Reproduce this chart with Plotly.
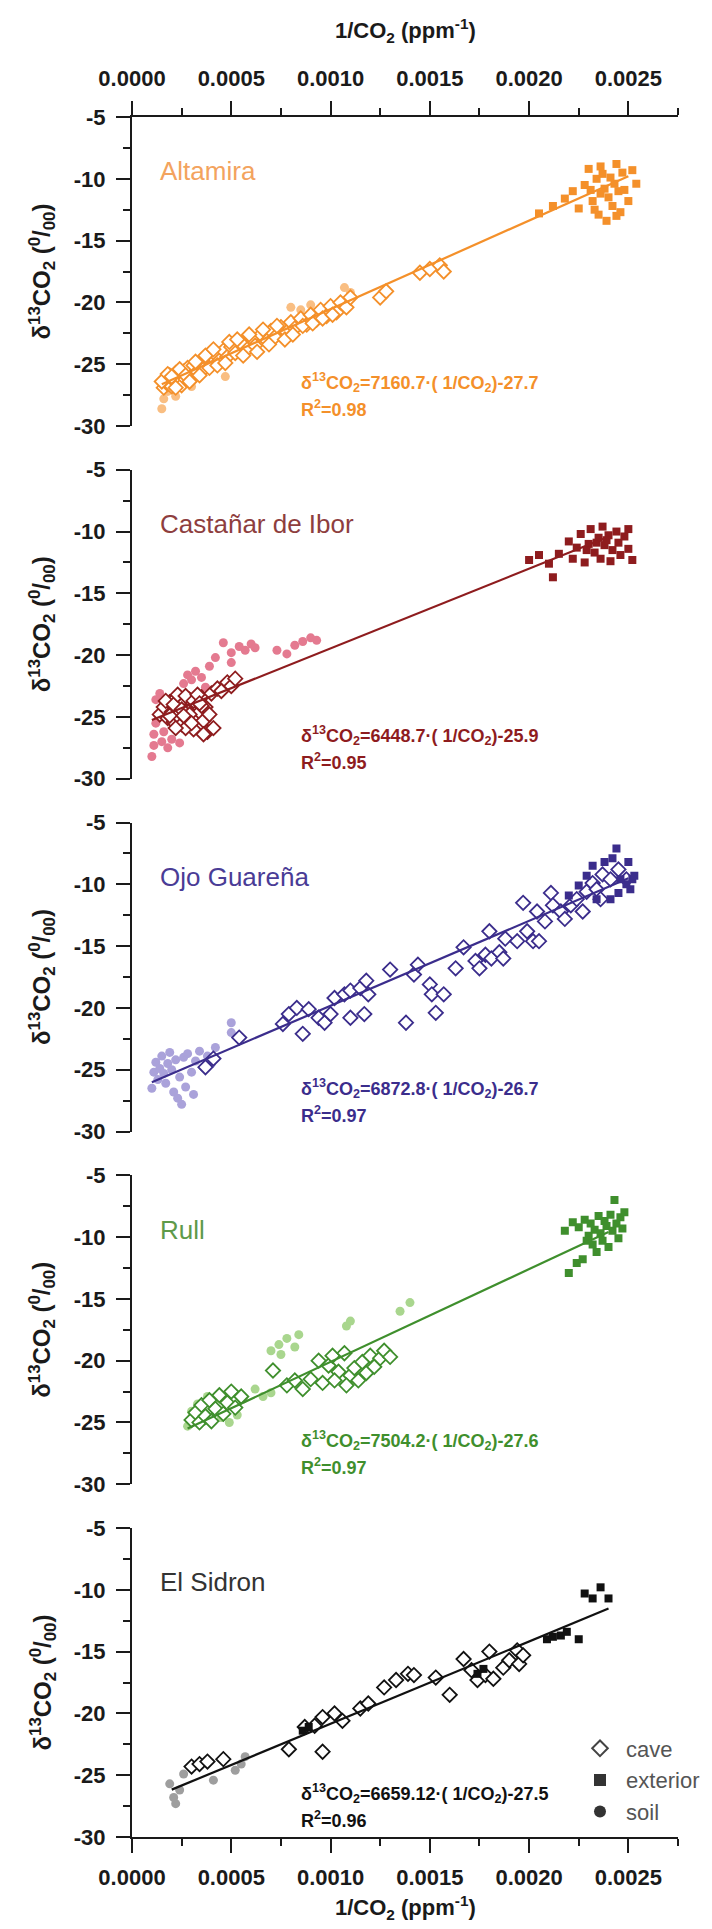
import plotly.graph_objects as go

# ---------------- axis / tick data ----------------
X_RANGE = [0.0, 0.00275]
Y_RANGE = [-30, -5]
x_tick_vals = [0.0, 0.0005, 0.0010, 0.0015, 0.0020, 0.0025]
x_tick_text = ["0.0000", "0.0005", "0.0010", "0.0015", "0.0020", "0.0025"]
x_minor_vals = [0.00025, 0.00075, 0.00125, 0.00175, 0.00225, 0.00275]
y_tick_vals = [-30, -25, -20, -15, -10, -5]
y_tick_text = ["-30", "-25", "-20", "-15", "-10", "-5"]
y_minor_vals = [-27.5, -22.5, -17.5, -12.5, -7.5]

# ---------------- per-site regression info ----------------
sites = ["Altamira", "Castañar de Ibor", "Ojo Guareña", "Rull", "El Sidron"]
slope_txt = ["7160.7", "6448.7", "6872.8", "7504.2", "6659.12"]
slopes = [7160.7, 6448.7, 6872.8, 7504.2, 6659.12]
intercepts = [-27.7, -25.9, -26.7, -27.6, -27.5]
r2_txt = ["0.98", "0.95", "0.97", "0.97", "0.96"]
fit_x_start = [0.00015, 0.00010, 0.00010, 0.00028, 0.00020]
fit_x_end = [0.00250, 0.00240, 0.00250, 0.00240, 0.00240]

main_colors = ["#F4902A", "#8E1C1E", "#3B2D8C", "#3F8F2D", "#111111"]
label_colors = ["#F3A35E", "#8E3E3E", "#4A3C96", "#5E9A4A", "#333333"]
soil_colors = ["#F9BE82", "#E47A90", "#AAA2DA", "#A9D68E", "#9E9E9E"]

# ---------------- Altamira ----------------
alt_ext_x = [0.00205, 0.00212, 0.00218, 0.00222, 0.00225, 0.00228, 0.00230, 0.00232, 0.00234, 0.00235,
             0.00236, 0.00237, 0.00238, 0.00239, 0.00240, 0.00241, 0.00242, 0.00243, 0.00244, 0.00245,
             0.00246, 0.00247, 0.00248, 0.00250, 0.00252, 0.00254, 0.00231, 0.00236, 0.00244, 0.00233]
alt_ext_y = [-12.8, -12.2, -11.6, -11.0, -12.4, -10.5, -9.2, -11.8, -10.0, -12.9,
             -11.2, -9.6, -10.8, -13.4, -11.5, -9.9, -12.2, -10.4, -8.8, -11.0,
             -12.7, -9.5, -10.9, -11.8, -9.3, -10.4, -10.9, -9.0, -13.0, -12.5]
alt_cave_x = [0.00016, 0.00017, 0.00018, 0.00019, 0.00020, 0.00021, 0.00022, 0.00023, 0.00024, 0.00025,
              0.00026, 0.00027, 0.00028, 0.00030, 0.00031, 0.00033, 0.00035, 0.00036, 0.00038, 0.00040,
              0.00042, 0.00044, 0.00046, 0.00048, 0.00050, 0.00052, 0.00055, 0.00058, 0.00060, 0.00062,
              0.00065, 0.00068, 0.00070, 0.00072, 0.00075, 0.00078, 0.00080, 0.00082, 0.00085, 0.00088,
              0.00090, 0.00093, 0.00095, 0.00098, 0.00100, 0.00103, 0.00105, 0.00108, 0.00110, 0.00125,
              0.00128, 0.00145, 0.00150, 0.00155, 0.00157,
              0.00015, 0.00018, 0.00020, 0.00022, 0.00024, 0.00027, 0.00029, 0.00032, 0.00034, 0.00037,
              0.00039, 0.00041, 0.00043, 0.00047, 0.00049, 0.00053, 0.00056, 0.00059, 0.00063, 0.00066,
              0.00069, 0.00073, 0.00077, 0.00081, 0.00086, 0.00091, 0.00096, 0.00101]
alt_cave_y = [-26.9, -26.2, -26.6, -25.9, -26.8, -26.3, -25.7, -26.5, -26.1, -26.7,
              -25.6, -26.2, -25.3, -25.9, -25.1, -25.6, -24.9, -25.4, -24.6, -25.0,
              -24.2, -24.7, -23.9, -24.4, -23.6, -24.1, -23.3, -23.8, -22.9, -23.5,
              -22.6, -23.1, -22.3, -22.8, -22.0, -22.4, -21.6, -22.1, -21.3, -21.8,
              -21.0, -21.4, -20.6, -21.1, -20.3, -20.8, -20.0, -20.4, -19.6, -19.6,
              -19.1, -17.6, -17.3, -17.0, -17.5,
              -26.4, -25.8, -26.0, -26.9, -25.4, -25.9, -26.4, -24.8, -25.9, -24.3,
              -25.3, -23.8, -25.1, -24.9, -23.2, -23.0, -24.3, -22.6, -24.0, -22.2,
              -23.4, -21.9, -23.0, -22.6, -21.9, -21.7, -21.3, -21.0]
alt_soil_x = [0.00015, 0.00016, 0.00018, 0.00020, 0.00022, 0.00025, 0.00028, 0.00030, 0.00035, 0.00047,
              0.00060, 0.00080, 0.00085, 0.00090, 0.00093, 0.00107, 0.00110]
alt_soil_y = [-28.6, -27.8, -27.2, -26.5, -27.6, -26.0, -25.8, -26.8, -25.5, -26.0,
              -23.5, -20.4, -20.6, -20.2, -20.8, -18.8, -19.2]

# ---------------- Castañar de Ibor ----------------
cas_ext_x = [0.00200, 0.00205, 0.00210, 0.00212, 0.00215, 0.00220, 0.00222, 0.00224, 0.00226, 0.00228,
             0.00230, 0.00231, 0.00233, 0.00235, 0.00236, 0.00237, 0.00238, 0.00240, 0.00241, 0.00242,
             0.00244, 0.00245, 0.00246, 0.00248, 0.00250, 0.00250, 0.00252, 0.00229, 0.00234, 0.00239]
cas_ext_y = [-12.3, -11.9, -12.6, -13.7, -11.8, -10.8, -12.2, -11.3, -10.2, -12.5,
             -11.0, -9.8, -11.7, -10.5, -12.2, -9.6, -11.1, -10.3, -12.4, -11.5,
             -10.0, -10.9, -11.9, -10.4, -9.8, -11.4, -12.3, -11.5, -10.9, -10.7]
cas_cave_x = [0.00014, 0.00016, 0.00018, 0.00019, 0.00020, 0.00021, 0.00022, 0.00023, 0.00024, 0.00025,
              0.00026, 0.00027, 0.00028, 0.00029, 0.00030, 0.00031, 0.00032, 0.00033, 0.00034, 0.00035,
              0.00036, 0.00037, 0.00038, 0.00039, 0.00040, 0.00041, 0.00043, 0.00045, 0.00048, 0.00050,
              0.00052, 0.00036, 0.00031, 0.00027,
              0.00017, 0.00019, 0.00021, 0.00023, 0.00025, 0.00027, 0.00029, 0.00031, 0.00033, 0.00035,
              0.00022, 0.00026, 0.00030, 0.00034]
cas_cave_y = [-24.8, -24.2, -25.1, -23.8, -24.6, -25.4, -23.5, -24.9, -24.1, -25.6,
              -23.9, -24.5, -25.2, -23.6, -24.3, -25.0, -24.0, -25.8, -24.6, -23.4,
              -25.3, -24.2, -26.2, -24.8, -23.1, -25.9, -22.7, -22.9, -22.2, -22.5,
              -21.9, -26.4, -26.0, -25.9,
              -23.7, -24.9, -24.0, -23.2, -24.4, -23.3, -24.8, -23.7, -23.2, -24.1,
              -25.9, -24.9, -25.5, -23.9]
cas_soil_x = [0.00010, 0.00011, 0.00011, 0.00012, 0.00013, 0.00012, 0.00014, 0.00015, 0.00016, 0.00018,
              0.00020, 0.00022, 0.00024, 0.00026, 0.00028, 0.00030, 0.00032, 0.00035, 0.00037, 0.00039,
              0.00042, 0.00046, 0.00050, 0.00054, 0.00057, 0.00060, 0.00062, 0.00073, 0.00078, 0.00082,
              0.00086, 0.00090, 0.00093, 0.00050]
cas_soil_y = [-28.2, -27.3, -26.4, -25.5, -24.8, -23.6, -23.1, -27.0, -26.2, -27.5,
              -26.8, -25.9, -27.1, -22.3, -21.6, -22.0, -21.3, -21.8, -22.6, -20.9,
              -20.2, -19.0, -19.8, -19.3, -19.6, -19.1, -19.4, -19.6, -19.9, -19.2,
              -18.9, -18.6, -18.8, -20.6]

# ---------------- Ojo Guareña ----------------
ojo_cave_x = [0.00037, 0.00041, 0.00054, 0.00076, 0.00079, 0.00083, 0.00086, 0.00089, 0.00094, 0.00097,
              0.00100, 0.00102, 0.00107, 0.00110, 0.00110, 0.00115, 0.00117, 0.00118, 0.00119, 0.00130,
              0.00138, 0.00142, 0.00144, 0.00150, 0.00151, 0.00153, 0.00157, 0.00163, 0.00167, 0.00173,
              0.00175, 0.00178, 0.00180, 0.00181, 0.00185, 0.00187, 0.00188, 0.00194, 0.00197, 0.00199,
              0.00202, 0.00204, 0.00205, 0.00208, 0.00211, 0.00212, 0.00216, 0.00218, 0.00221, 0.00224,
              0.00227, 0.00229, 0.00232, 0.00234, 0.00236, 0.00237, 0.00241, 0.00245, 0.00249]
ojo_cave_y = [-24.8, -24.1, -22.4, -21.3, -20.5, -20.0, -22.1, -20.1, -20.8, -21.2,
              -20.5, -19.2, -18.9, -18.6, -20.8, -18.4, -20.5, -17.8, -18.9, -16.9,
              -21.2, -17.3, -16.5, -18.1, -18.9, -20.4, -18.9, -16.8, -15.1, -16.2,
              -16.8, -15.7, -13.8, -16.0, -15.5, -16.0, -14.4, -14.6, -11.5, -13.8,
              -14.6, -12.2, -14.6, -13.0, -10.7, -11.7, -12.2, -12.8, -11.7, -11.2,
              -12.2, -10.6, -9.9, -10.4, -11.2, -9.2, -9.6, -8.8, -9.6]
ojo_ext_x = [0.00244, 0.00242, 0.00250, 0.00252, 0.00251, 0.00245, 0.00238, 0.00232, 0.00229, 0.00225,
             0.00220, 0.00234, 0.00241, 0.00249, 0.00253, 0.00246]
ojo_ext_y = [-7.1, -7.9, -8.2, -9.6, -10.4, -10.7, -8.2, -8.5, -9.3, -10.1,
             -10.9, -11.2, -11.2, -10.0, -9.3, -9.6]
ojo_soil_x = [0.00010, 0.00011, 0.00012, 0.00013, 0.00014, 0.00015, 0.00016, 0.00017, 0.00018, 0.00019,
              0.00020, 0.00021, 0.00022, 0.00023, 0.00024, 0.00025, 0.00026, 0.00027, 0.00028, 0.00030,
              0.00031, 0.00032, 0.00034, 0.00036, 0.00038, 0.00040, 0.00042, 0.00050, 0.00050]
ojo_soil_y = [-26.5, -25.2, -24.4, -25.8, -24.9, -23.9, -25.3, -26.1, -24.5, -23.6,
              -25.0, -26.8, -24.2, -27.3, -25.6, -27.8, -24.0, -26.4, -23.7, -25.2,
              -27.0, -24.3, -23.5, -24.8, -23.9, -24.5, -23.2, -21.2, -22.0]

# ---------------- Rull ----------------
rul_ext_x = [0.00218, 0.00220, 0.00222, 0.00224, 0.00225, 0.00227, 0.00228, 0.00230, 0.00231, 0.00233,
             0.00234, 0.00235, 0.00236, 0.00237, 0.00238, 0.00239, 0.00240, 0.00241, 0.00242, 0.00243,
             0.00244, 0.00245, 0.00246, 0.00247, 0.00248, 0.00232, 0.00229]
rul_ext_y = [-9.5, -12.9, -8.8, -12.1, -9.2, -11.8, -8.6, -9.9, -8.9, -9.4,
             -11.2, -8.3, -9.7, -10.3, -8.7, -9.1, -10.8, -8.2, -9.5, -7.0,
             -8.9, -10.1, -8.4, -9.3, -8.0, -10.6, -10.3]
rul_cave_x = [0.00030, 0.00032, 0.00034, 0.00035, 0.00037, 0.00039, 0.00040, 0.00042, 0.00044, 0.00046,
              0.00048, 0.00050, 0.00052, 0.00055, 0.00071, 0.00078, 0.00082, 0.00086, 0.00090, 0.00094,
              0.00096, 0.00099, 0.00101, 0.00104, 0.00107, 0.00110, 0.00112, 0.00114, 0.00116, 0.00118,
              0.00120, 0.00122, 0.00125, 0.00127, 0.00130, 0.00102, 0.00108]
rul_cave_y = [-24.8, -24.2, -25.0, -23.6, -24.5, -23.2, -24.9, -23.9, -22.8, -24.3,
              -23.4, -22.5, -23.8, -22.9, -20.8, -22.0, -21.6, -22.3, -21.5, -20.0,
              -21.8, -20.4, -19.6, -20.9, -19.4, -21.2, -20.6, -21.6, -20.1, -21.0,
              -19.6, -20.5, -19.8, -19.2, -19.7, -21.6, -22.0]
rul_soil_x = [0.00028, 0.00030, 0.00033, 0.00036, 0.00038, 0.00041, 0.00045, 0.00049, 0.00053, 0.00056,
              0.00062, 0.00066, 0.00070, 0.00070, 0.00074, 0.00078, 0.00082, 0.00084, 0.00108, 0.00110,
              0.00135, 0.00140, 0.00075]
rul_soil_y = [-25.3, -24.1, -23.5, -24.9, -22.9, -23.3, -24.6, -25.0, -24.4, -23.1,
              -22.3, -22.9, -22.6, -19.2, -18.7, -18.2, -18.9, -17.9, -17.2, -16.8,
              -16.0, -15.3, -19.5]

# ---------------- El Sidron ----------------
sid_soil_x = [0.00019, 0.00021, 0.00022, 0.00024, 0.00026, 0.00041, 0.00052, 0.00055, 0.00057]
sid_soil_y = [-25.7, -26.8, -27.3, -26.2, -24.9, -25.4, -24.6, -24.1, -23.5]
sid_cave_x = [0.00030, 0.00034, 0.00038, 0.00046, 0.00079, 0.00096, 0.00087, 0.00092, 0.00096, 0.00102,
              0.00106, 0.00115, 0.00119, 0.00127, 0.00133, 0.00139, 0.00142, 0.00153, 0.00160, 0.00167,
              0.00171, 0.00174, 0.00178, 0.00180, 0.00182, 0.00187, 0.00190, 0.00194, 0.00195, 0.00197]
sid_cave_y = [-24.3, -24.1, -23.9, -23.7, -22.9, -23.1, -21.1, -21.0, -20.3, -20.0,
              -20.6, -19.6, -19.2, -17.9, -17.3, -16.8, -16.9, -17.1, -18.5, -15.6,
              -16.5, -17.3, -16.9, -15.0, -17.2, -16.3, -15.7, -14.9, -16.0, -15.3]
sid_ext_x = [0.00086, 0.00089, 0.00174, 0.00177, 0.00209, 0.00212, 0.00216, 0.00219, 0.00225,
             0.00228, 0.00232, 0.00236, 0.00240]
sid_ext_y = [-21.4, -21.1, -16.8, -16.4, -14.0, -13.8, -13.7, -13.4, -14.0,
             -10.3, -10.7, -9.8, -10.7]

cave_x = [alt_cave_x, cas_cave_x, ojo_cave_x, rul_cave_x, sid_cave_x]
cave_y = [alt_cave_y, cas_cave_y, ojo_cave_y, rul_cave_y, sid_cave_y]
ext_x = [alt_ext_x, cas_ext_x, ojo_ext_x, rul_ext_x, sid_ext_x]
ext_y = [alt_ext_y, cas_ext_y, ojo_ext_y, rul_ext_y, sid_ext_y]
soil_x = [alt_soil_x, cas_soil_x, ojo_soil_x, rul_soil_x, sid_soil_x]
soil_y = [alt_soil_y, cas_soil_y, ojo_soil_y, rul_soil_y, sid_soil_y]

legend_names = [" cave", " exterior", " soil"]

# ---------------- layout geometry ----------------
W, H = 712, 1929
M_L, M_R, M_T, M_B = 132, 34, 117, 92
plot_w = W - M_L - M_R
plot_h = H - M_T - M_B
panel_px = 309
gap_px = (plot_h - 5 * panel_px) / 4.0
FONT = "Liberation Sans, Arial, sans-serif"
AXC = "#1a1a1a"

fig = go.Figure()
layout = dict(
    width=W, height=H,
    margin=dict(l=M_L, r=M_R, t=M_T, b=M_B, autoexpand=False),
    paper_bgcolor="white", plot_bgcolor="white",
    font=dict(family=FONT, color=AXC),
    showlegend=True,
    legend=dict(x=(580 - M_L) / plot_w, xanchor="left",
                y=(H - M_B - 1780) / plot_h, yanchor="middle",
                bgcolor="rgba(0,0,0,0)", borderwidth=0,
                font=dict(size=22, color="#555", family=FONT),
                itemsizing="constant", tracegroupgap=0),
)
annotations = []

ytitle = "δ<sup>13</sup>CO<sub>2</sub> (<sup>0</sup>/<sub>00</sub>)"
xtitle = "1/CO<sub>2</sub> (ppm<sup>-1</sup>)"

for i in range(5):
    n = i + 1
    sx = "" if n == 1 else str(n)
    top_px = i * (panel_px + gap_px)
    d_top = 1 - top_px / plot_h
    d_bot = 1 - (top_px + panel_px) / plot_h
    xa = dict(domain=[0, 1], range=X_RANGE, anchor="y" + sx, showgrid=False, zeroline=False,
              fixedrange=True)
    if n == 1 or n == 5:
        xa.update(side="top" if n == 1 else "bottom", showline=True, linecolor=AXC, linewidth=2,
                  ticks="outside", ticklen=14, tickwidth=2, tickcolor=AXC,
                  tickmode="array", tickvals=x_tick_vals, ticktext=x_tick_text,
                  tickfont=dict(size=22, family=FONT, color=AXC, weight="bold"),
                  ticklabelstandoff=6,
                  minor=dict(ticks="outside", ticklen=7, tickwidth=2, tickcolor=AXC,
                             tickmode="array", tickvals=x_minor_vals, showgrid=False))
    else:
        xa.update(visible=False)
    if n > 1:
        xa["matches"] = "x"
    layout["xaxis" + sx] = xa
    layout["yaxis" + sx] = dict(
        domain=[d_bot, d_top], range=Y_RANGE, anchor="x" + sx, showgrid=False, zeroline=False,
        showline=True, linecolor=AXC, linewidth=2, ticks="outside", ticklen=14, tickwidth=2,
        tickcolor=AXC, tickmode="array", tickvals=y_tick_vals, ticktext=y_tick_text,
        tickfont=dict(size=22, family=FONT, color=AXC, weight="bold"), ticklabelstandoff=6,
        minor=dict(ticks="outside", ticklen=7, tickwidth=2, tickcolor=AXC,
                   tickmode="array", tickvals=y_minor_vals, showgrid=False),
        fixedrange=True)

    xr, yr = "x" + sx, "y" + sx
    # soil
    fig.add_trace(go.Scatter(x=soil_x[i], y=soil_y[i], mode="markers", xaxis=xr, yaxis=yr,
                             marker=dict(symbol="circle", size=9, color=soil_colors[i]),
                             showlegend=False, hoverinfo="skip"))
    # cave
    fig.add_trace(go.Scatter(x=cave_x[i], y=cave_y[i], mode="markers", xaxis=xr, yaxis=yr,
                             marker=dict(symbol="diamond", size=11, color="white",
                                         line=dict(color=main_colors[i], width=1.8)),
                             showlegend=False, hoverinfo="skip"))
    # exterior
    fig.add_trace(go.Scatter(x=ext_x[i], y=ext_y[i], mode="markers", xaxis=xr, yaxis=yr,
                             marker=dict(symbol="square", size=8, color=main_colors[i]),
                             showlegend=False, hoverinfo="skip"))
    # fit line from the printed equation
    fx = [fit_x_start[i], fit_x_end[i]]
    fy = [slopes[i] * v + intercepts[i] for v in fx]
    fig.add_trace(go.Scatter(x=fx, y=fy, mode="lines", xaxis=xr, yaxis=yr,
                             line=dict(color=main_colors[i], width=2.2),
                             showlegend=False, hoverinfo="skip"))

    # site name
    annotations.append(dict(x=0.00013, y=-9.4, xref=xr, yref=yr, text=sites[i], showarrow=False,
                            xanchor="left", yanchor="middle",
                            font=dict(size=26, family=FONT, color=label_colors[i])))
    # equation & R2
    eq = ("<b>δ<sup>13</sup>CO<sub>2</sub>=" + slope_txt[i] + "·( 1/CO<sub>2</sub>)"
          + ("%.1f" % intercepts[i]) + "</b>")
    annotations.append(dict(x=0.00084, y=-26.5, xref=xr, yref=yr, text=eq, showarrow=False,
                            xanchor="left", yanchor="middle",
                            font=dict(size=18, family=FONT, color=main_colors[i])))
    annotations.append(dict(x=0.00084, y=-28.6, xref=xr, yref=yr,
                            text="<b>R<sup>2</sup>=" + r2_txt[i] + "</b>", showarrow=False,
                            xanchor="left", yanchor="middle",
                            font=dict(size=18, family=FONT, color=main_colors[i])))
    # y title
    annotations.append(dict(x=(42 - M_L) / plot_w, y=(d_top + d_bot) / 2,
                            xref="paper", yref="paper", text="<b>" + ytitle + "</b>",
                            textangle=-90, showarrow=False, xanchor="center", yanchor="middle",
                            font=dict(size=24, family=FONT, color=AXC)))

# x titles (top and bottom)
annotations.append(dict(x=0.5, y=(H - M_B - 30) / plot_h, xref="paper", yref="paper",
                        text="<b>" + xtitle + "</b>", showarrow=False, xanchor="center",
                        yanchor="middle", font=dict(size=22, family=FONT, color=AXC)))
annotations.append(dict(x=0.5, y=(H - M_B - 1907) / plot_h, xref="paper", yref="paper",
                        text="<b>" + xtitle + "</b>", showarrow=False, xanchor="center",
                        yanchor="middle", font=dict(size=22, family=FONT, color=AXC)))

# legend entries (generic black symbols as in the reference)
fig.add_trace(go.Scatter(x=[None], y=[None], mode="markers", xaxis="x5", yaxis="y5",
                         name=legend_names[0],
                         marker=dict(symbol="diamond", size=11, color="white",
                                     line=dict(color="#444", width=1.8))))
fig.add_trace(go.Scatter(x=[None], y=[None], mode="markers", xaxis="x5", yaxis="y5",
                         name=legend_names[1],
                         marker=dict(symbol="square", size=8, color="#333")))
fig.add_trace(go.Scatter(x=[None], y=[None], mode="markers", xaxis="x5", yaxis="y5",
                         name=legend_names[2],
                         marker=dict(symbol="circle", size=8, color="#333")))

layout["annotations"] = annotations
fig.update_layout(**layout)
fig.write_html("out.html")
